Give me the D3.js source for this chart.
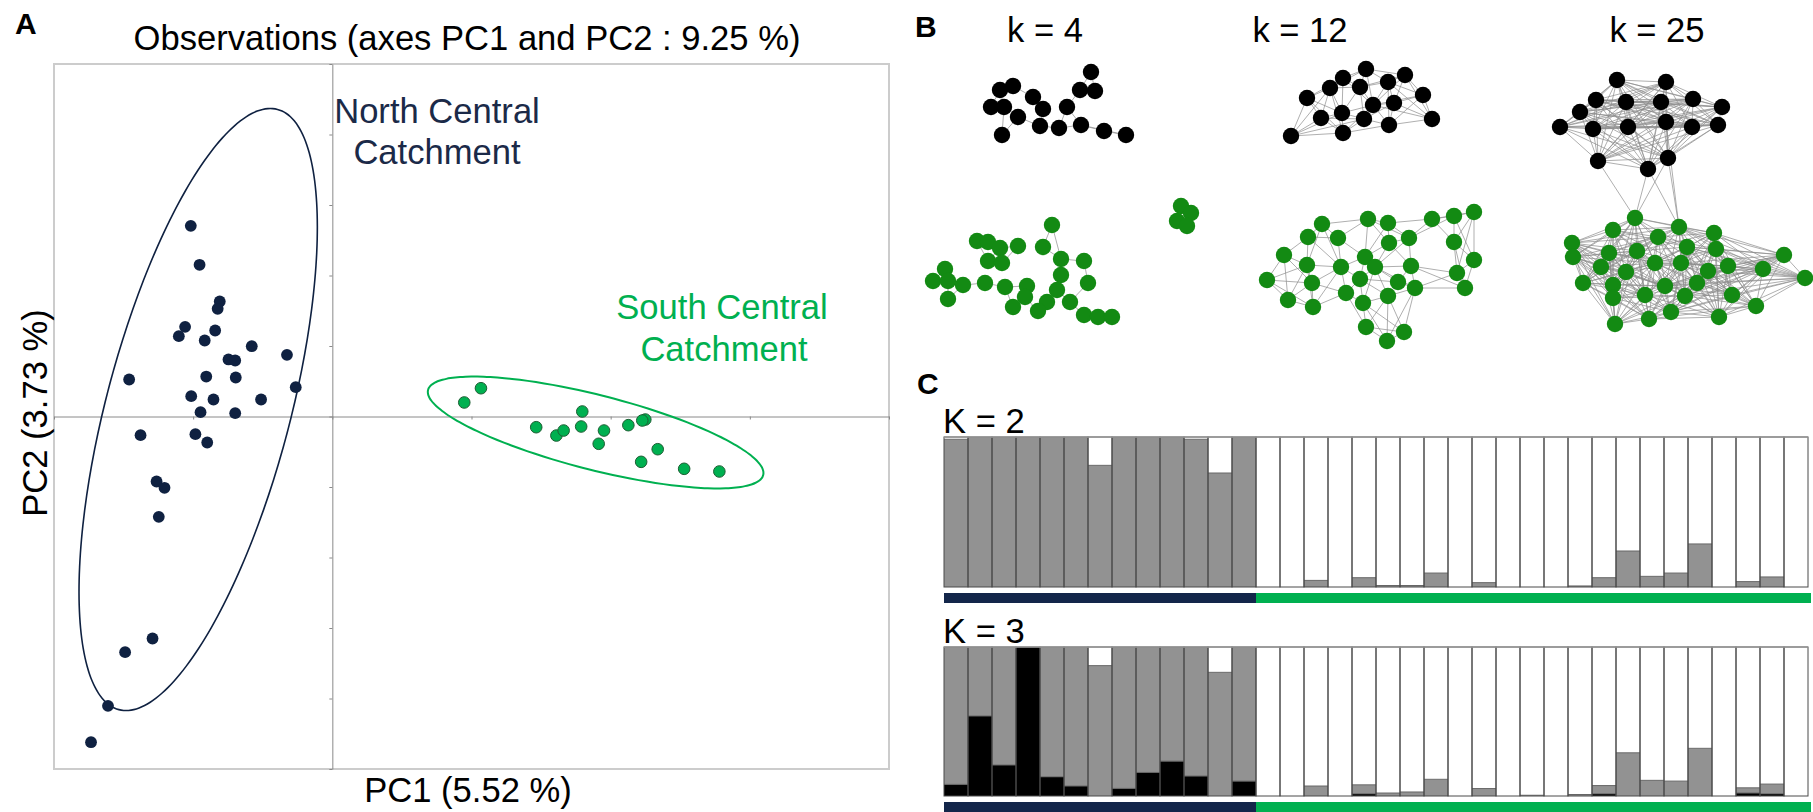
<!DOCTYPE html>
<html>
<head>
<meta charset="utf-8">
<script src="https://cdn.jsdelivr.net/npm/d3@7"></script>
<style>
body { margin: 0; background: #fff; }
text { font-family: "Liberation Sans", Arial, sans-serif; }
</style>
</head>
<body>
<div id="chart"></div>
<script>
const navy = "#0f2141";
const southGreen = "#00b050";
const netGreen = "#138a13";
const admixGray = "#929292";

// ---- Panel A : PCA scores (tick spacing = 1 unit) ----
const northPoints = [
	[-1.017, 2.705], [-0.954, 2.152], [-0.809, 1.631], [-0.824, 1.528], [-1.058, 1.272],
	[-1.103, 1.139], [-0.842, 1.220], [-0.917, 1.078], [-0.579, 0.997], [-0.326, 0.875],
	[-0.746, 0.809], [-0.698, 0.794], [-1.460, 0.525], [-0.906, 0.567], [-0.694, 0.553],
	[-0.263, 0.416], [-1.014, 0.288], [-0.854, 0.241], [-0.512, 0.241], [-0.947, 0.061],
	[-0.698, 0.047], [-1.378, -0.265], [-0.984, -0.251], [-0.899, -0.369], [-1.263, -0.922],
	[-1.206, -1.011], [-1.247, -1.423], [-1.292, -3.149], [-1.489, -3.343], [-1.612, -4.104],
	[-1.734, -4.620],
];
const southPoints = [
	[1.068, 0.401], [0.948, 0.199], [1.796, 0.071], [1.465, -0.152], [1.610, -0.270],
	[1.662, -0.199], [1.788, -0.142], [1.952, -0.199], [1.914, -0.387], [2.127, -0.123],
	[2.249, -0.043], [2.227, -0.057], [2.338, -0.464], [2.219, -0.643], [2.528, -0.742],
	[2.781, -0.780],
];
// confidence ellipses: centre, then two conjugate semi-axis vectors
const northEllipse = [-0.964, 0.099, 0.570, 4.257, -0.639, 0.333];
const southEllipse = [1.892, -0.227, 1.204, -0.604, 0.066, 0.514];
const pc1Ticks = [-2, -1, 0, 1, 2, 3, 4];
const pc2Ticks = [-5, -4, -3, -2, -1, 0, 1, 2, 3, 4, 5];

// ---- Panel B : network layouts (layout units) ----
const k4Black = [[171,12],[93,26],[80,30],[160,30],[175,31],[113,37],[71,47],[84,47],[123,49],[147,47],[98,57],[120,66],[139,68],[161,65],[184,71],[206,75],[82,75]];
const k4Green = [[132,165],[57,181],[68,182],[80,188],[98,186],[123,187],[68,201],[82,203],[141,199],[164,201],[25,209],[13,221],[28,221],[43,225],[65,223],[141,215],[168,223],[85,227],[107,226],[105,237],[137,230],[28,239],[127,242],[150,242],[93,247],[118,251],[164,255],[178,257],[192,257]];
const k4GreenSmall = [[261,146],[271,153],[257,161],[267,166]];
const k12Black = [[83,18],[70,28],[47,38],[82,53],[61,58],[83,73],[31,76],[106,9],[100,27],[128,22],[145,15],[163,35],[113,45],[134,43],[104,59],[129,65],[172,59]];
const k12Green = [[62,164],[48,177],[78,178],[24,195],[47,205],[81,207],[7,220],[52,223],[86,233],[28,240],[53,247],[106,267],[108,159],[128,163],[172,159],[194,156],[214,152],[129,183],[149,178],[194,182],[105,197],[115,207],[151,206],[214,200],[100,219],[138,222],[197,213],[128,236],[155,228],[205,228],[103,243],[144,272],[127,281]];
const k25Black = [[67,20],[116,22],[46,40],[76,42],[111,42],[143,39],[172,47],[30,52],[10,67],[43,69],[78,67],[116,62],[142,67],[168,65],[48,101],[98,109],[118,98]];
const k25Green = [[85,158],[63,170],[129,167],[164,173],[108,177],[22,183],[23,197],[59,193],[87,191],[137,187],[166,189],[234,195],[51,207],[105,203],[131,203],[158,211],[178,206],[213,209],[255,218],[76,212],[33,223],[63,225],[115,226],[147,223],[63,238],[95,235],[135,236],[182,235],[206,246],[121,252],[99,259],[169,257],[65,264]];
const k25Cross = [[14, 0], [15, 0], [16, 0], [15, 2], [16, 2], [11, 2]];

// ---- Panel C : admixture proportions per individual ----
const individuals = d3.range(1, 37);
const popNames = ["North Central", "South Central"];
const popSizes = [13, 23];
const k2Gray = [0.985,1,1,1,1,1,0.811,1,1,1,0.985,0.76,1,
	0,0,0.044,0,0.062,0.01,0.01,0.093,0,0.029,0,0,0,0.007,0.062,0.24,0.071,0.093,0.287,0,0.036,0.067,0];
const k3Black = [0.078,0.537,0.208,1,0.129,0.067,0,0.051,0.158,0.234,0.134,0,0.1,
	0,0,0,0,0.015,0,0,0,0,0,0,0,0,0,0.015,0,0,0,0,0,0.02,0.015,0];
const k3Gray = [0.922,0.463,0.792,0,0.871,0.933,0.875,0.949,0.842,0.766,0.866,0.83,0.9,
	0,0,0.067,0,0.06,0.02,0.027,0.112,0,0.05,0,0.005,0,0.01,0.055,0.29,0.105,0.1,0.32,0,0.035,0.065,0];

const width = 1813;
const height = 812;

const svg = d3.select("#chart")
	.append("svg")
	.attr("width", width)
	.attr("height", height);

function label(x, y, txt, size, opts = {}) {
	return svg.append("text")
		.attr("x", x)
		.attr("y", y)
		.attr("font-size", size)
		.attr("font-weight", opts.bold ? 700 : 400)
		.attr("fill", opts.fill || "#000")
		.attr("text-anchor", opts.anchor || "start")
		.text(txt);
}

// ================= Panel A =================
const x = d3.scaleLinear().domain([-2, 4]).range([54, 889]);
const y = d3.scaleLinear().domain([-5, 5]).range([769, 64]);

const pca = svg.append("g").attr("class", "pca");

pca.append("rect")
	.attr("x", x(-2))
	.attr("y", y(5))
	.attr("width", x(4) - x(-2))
	.attr("height", y(-5) - y(5))
	.attr("fill", "none")
	.attr("stroke", "#cccccc")
	.attr("stroke-width", 2);

// axes through the origin
const xAxis = pca.append("g")
	.attr("transform", `translate(0,${y(0)})`)
	.call(d3.axisBottom(x).tickValues(pc1Ticks).tickFormat("").tickSizeInner(3).tickSizeOuter(0));
const yAxis = pca.append("g")
	.attr("transform", `translate(${x(0)},0)`)
	.call(d3.axisLeft(y).tickValues(pc2Ticks).tickFormat("").tickSizeInner(3).tickSizeOuter(0));
[xAxis, yAxis].forEach((a) => {
	a.selectAll("path, line").attr("stroke", "#8a8a8a").attr("stroke-width", 1);
});

function ellipsePath(e) {
	const pts = d3.range(0, 120).map((i) => {
		const t = (i / 120) * 2 * Math.PI;
		return [e[0] + Math.cos(t) * e[2] + Math.sin(t) * e[4], e[1] + Math.cos(t) * e[3] + Math.sin(t) * e[5]];
	});
	return d3.line().x((d) => x(d[0])).y((d) => y(d[1])).curve(d3.curveCardinalClosed)(pts);
}

pca.append("path")
	.attr("d", ellipsePath(northEllipse))
	.attr("fill", "none")
	.attr("stroke", navy)
	.attr("stroke-width", 1.6);

pca.append("path")
	.attr("d", ellipsePath(southEllipse))
	.attr("fill", "none")
	.attr("stroke", southGreen)
	.attr("stroke-width", 2);

pca.selectAll(".north")
	.data(northPoints)
	.enter()
	.append("circle")
	.attr("class", "north")
	.attr("cx", (d) => x(d[0]))
	.attr("cy", (d) => y(d[1]))
	.attr("r", 5.9)
	.attr("fill", navy);

pca.selectAll(".south")
	.data(southPoints)
	.enter()
	.append("circle")
	.attr("class", "south")
	.attr("cx", (d) => x(d[0]))
	.attr("cy", (d) => y(d[1]))
	.attr("r", 5.8)
	.attr("fill", southGreen)
	.attr("stroke", "#1d5e33")
	.attr("stroke-width", 1);

label(15, 34, "A", 30, {bold: true});
label(467, 50, "Observations (axes PC1 and PC2 : 9.25 %)", 34.6, {anchor: "middle"});
label(468, 802, "PC1 (5.52 %)", 34.6, {anchor: "middle"});
svg.append("text")
	.attr("transform", "translate(47,413) rotate(-90)")
	.attr("font-size", 34.6)
	.attr("text-anchor", "middle")
	.text("PC2 (3.73 %)");
label(437, 123, "North Central", 34.6, {anchor: "middle", fill: "#1b2a48"});
label(437, 164, "Catchment", 34.6, {anchor: "middle", fill: "#1b2a48"});
label(722, 319, "South Central", 34.6, {anchor: "middle", fill: southGreen});
label(724, 361, "Catchment", 34.6, {anchor: "middle", fill: southGreen});

// ================= Panel B =================
function knnEdges(nodes, n) {
	const keys = new Set();
	const edges = [];
	nodes.forEach((a, i) => {
		nodes.map((b, j) => ({j, dist: Math.hypot(a[0] - b[0], a[1] - b[1])}))
			.filter((o) => o.j !== i)
			.sort((p, q) => p.dist - q.dist)
			.slice(0, n)
			.forEach((o) => {
				const key = Math.min(i, o.j) + "-" + Math.max(i, o.j);
				if (!keys.has(key)) {
					keys.add(key);
					edges.push([a, nodes[o.j]]);
				}
			});
	});
	return edges;
}

function drawNetwork(x0, groups, cross) {
	const nx = d3.scaleLinear().domain([0, 300]).range([x0, x0 + 300]);
	const ny = d3.scaleLinear().domain([0, 300]).range([60, 360]);
	const g = svg.append("g").attr("class", "network");
	let edges = [];
	groups.forEach((gr) => { edges = edges.concat(knnEdges(gr.nodes, gr.n)); });
	if (cross) {
		edges = edges.concat(cross.map((c) => [groups[0].nodes[c[0]], groups[1].nodes[c[1]]]));
	}
	g.selectAll("line")
		.data(edges)
		.enter()
		.append("line")
		.attr("x1", (d) => nx(d[0][0]))
		.attr("y1", (d) => ny(d[0][1]))
		.attr("x2", (d) => nx(d[1][0]))
		.attr("y2", (d) => ny(d[1][1]))
		.attr("stroke", "#8c8c8c")
		.attr("stroke-width", 0.7);
	groups.forEach((gr) => {
		g.selectAll(null)
			.data(gr.nodes)
			.enter()
			.append("circle")
			.attr("cx", (d) => nx(d[0]))
			.attr("cy", (d) => ny(d[1]))
			.attr("r", 8.2)
			.attr("fill", gr.fill);
	});
}

drawNetwork(920, [
	{nodes: k4Black, n: 2, fill: "#000"},
	{nodes: k4Green, n: 2, fill: netGreen},
	{nodes: k4GreenSmall, n: 3, fill: netGreen},
]);
drawNetwork(1260, [
	{nodes: k12Black, n: 6, fill: "#000"},
	{nodes: k12Green, n: 5, fill: netGreen},
]);
drawNetwork(1550, [
	{nodes: k25Black, n: 14, fill: "#000"},
	{nodes: k25Green, n: 16, fill: netGreen},
], k25Cross);

label(915, 37, "B", 30, {bold: true});
label(1045, 42, "k = 4", 34.6, {anchor: "middle"});
label(1300, 42, "k = 12", 34.6, {anchor: "middle"});
label(1657, 42, "k = 25", 34.6, {anchor: "middle"});

// ================= Panel C =================
const bx = d3.scaleBand().domain(individuals).range([944, 1808]);

function drawAdmixture(top, bottom, keys, colours, columns, name) {
	const yy = d3.scaleLinear().domain([0, 1]).range([bottom, top]);
	const rows = individuals.map((id, i) => {
		const row = {id};
		keys.forEach((k, j) => { row[k] = columns[j][i]; });
		return row;
	});
	const series = d3.stack().keys(keys)(rows);
	const g = svg.append("g").attr("class", "admixture");
	g.selectAll("g")
		.data(series)
		.enter()
		.append("g")
		.attr("fill", (d, i) => colours[i])
		.selectAll("rect")
		.data((d) => d)
		.enter()
		.append("rect")
		.attr("x", (d) => bx(d.data.id))
		.attr("y", (d) => yy(d[1]))
		.attr("width", bx.bandwidth())
		.attr("height", (d) => yy(d[0]) - yy(d[1]));
	// segment boundaries
	g.selectAll(".seg")
		.data(series.slice(0, -1).flatMap((s) => s.filter((d) => d[1] > d[0] && d[1] < 1)))
		.enter()
		.append("line")
		.attr("x1", (d) => bx(d.data.id))
		.attr("x2", (d) => bx(d.data.id) + bx.bandwidth())
		.attr("y1", (d) => yy(d[1]))
		.attr("y2", (d) => yy(d[1]))
		.attr("stroke", "#666")
		.attr("stroke-width", 1);
	g.selectAll(".col")
		.data(individuals)
		.enter()
		.append("rect")
		.attr("x", (d) => bx(d))
		.attr("y", top)
		.attr("width", bx.bandwidth())
		.attr("height", bottom - top)
		.attr("fill", "none")
		.attr("stroke", "#4a4a4a")
		.attr("stroke-width", 1);
	g.append("line")
		.attr("x1", bx.range()[0]).attr("x2", bx.range()[1])
		.attr("y1", top).attr("y2", top)
		.attr("stroke", "#9a9a9a").attr("stroke-width", 1.5);
	label(943, top - 4, name, 34.6);
}

function drawPopBar(y0) {
	let start = 0;
	popSizes.forEach((n, i) => {
		const x0 = bx(individuals[start]);
		const x1 = bx(individuals[start + n - 1]) + bx.bandwidth() + (i === popSizes.length - 1 ? 3 : 0);
		svg.append("rect")
			.attr("class", "pop " + popNames[i].replace(" ", "-"))
			.attr("x", x0)
			.attr("y", y0)
			.attr("width", x1 - x0)
			.attr("height", 10)
			.attr("fill", i === 0 ? "#13264a" : southGreen);
		start += n;
	});
}

const k2White = k2Gray.map((v) => 1 - v);
drawAdmixture(437, 587, ["gray", "white"], [admixGray, "#fff"], [k2Gray, k2White], "K = 2");
drawPopBar(593);

const k3White = k3Gray.map((v, i) => Math.max(0, 1 - v - k3Black[i]));
drawAdmixture(647, 796, ["black", "gray", "white"], ["#000", admixGray, "#fff"], [k3Black, k3Gray, k3White], "K = 3");
drawPopBar(802);

label(917, 394, "C", 30, {bold: true});
</script>
</body>
</html>
